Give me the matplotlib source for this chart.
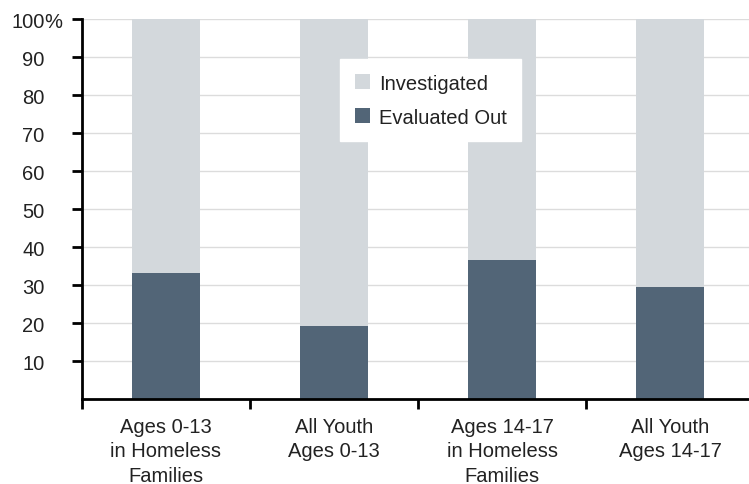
import matplotlib.pyplot as plt
import numpy as np

plt.rcParams['font.family'] = ['Liberation Sans', 'DejaVu Sans']

categories = ['Ages 0-13\nin Homeless\nFamilies', 'All Youth\nAges 0-13',
              'Ages 14-17\nin Homeless\nFamilies', 'All Youth\nAges 14-17']
evaluated_out = [33.2, 19.1, 36.7, 29.4]
investigated = [100 - v for v in evaluated_out]
yticks = [10, 20, 30, 40, 50, 60, 70, 80, 90, 100]
ytick_labels = ['10', '20', '30', '40', '50', '60', '70', '80', '90', '100']

dark = '#526577'
light = '#d3d8dc'
text_color = '#222222'
fs = 14.5

fig = plt.figure(figsize=(7.49, 4.85), dpi=100)
ax = fig.add_axes([82 / 749, 85 / 485, 672 / 749, 380 / 485])

x = np.arange(len(categories))
ax.bar(x, evaluated_out, width=0.4, color=dark, label='Evaluated Out', zorder=2)
ax.bar(x, investigated, width=0.4, bottom=evaluated_out, color=light,
       label='Investigated', zorder=2)

ax.set_xlim(-0.5, 3.5)
ax.set_ylim(0, 100)
ax.set_yticks(yticks)
ax.set_yticklabels(ytick_labels, fontsize=fs, color=text_color)
ax.yaxis.grid(True, color='#dcdcdc', linewidth=1, zorder=0)
# percent sign hangs to the right of the digits on the top label
ax.annotate('%', xy=(0, 100), xycoords=('axes fraction', 'data'),
            xytext=(-27.5, 0), textcoords='offset points',
            ha='left', va='center_baseline', fontsize=fs, color=text_color,
            annotation_clip=False)

ax.set_xticks(x)
ax.set_xticklabels(categories, fontsize=fs, color=text_color, linespacing=1.35)
ax.set_xticks(np.arange(-0.5, 3.6, 1), minor=True)
ax.tick_params(axis='x', which='major', length=0, pad=13)
ax.tick_params(axis='x', which='minor', length=7.5, width=2, direction='out')
ax.tick_params(axis='y', length=7.5, width=2, direction='out', pad=19.5)

for side in ['top', 'right']:
    ax.spines[side].set_visible(False)
ax.spines['left'].set_linewidth(2)
ax.spines['bottom'].set_linewidth(2)

handles, labels = ax.get_legend_handles_labels()
leg = ax.legend(handles[::-1], labels[::-1], loc='upper left',
                bbox_to_anchor=(340 / 749, 1 - 60 / 485),
                bbox_transform=fig.transFigure, borderaxespad=0,
                frameon=True, fancybox=False,
                edgecolor='white', facecolor='white', framealpha=1,
                fontsize=fs, handlelength=0.75, handleheight=0.75,
                labelspacing=0.75, borderpad=0.72, handletextpad=0.45)
for t in leg.get_texts():
    t.set_color(text_color)
leg.set_zorder(5)

fig.savefig('out.png', dpi=100)
